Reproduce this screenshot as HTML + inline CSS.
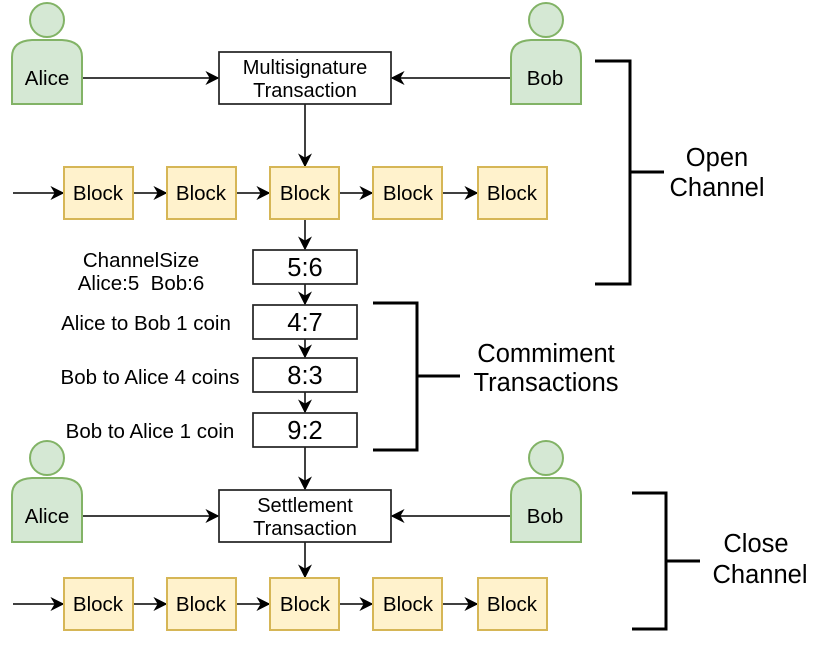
<!DOCTYPE html>
<html><head><style>body{margin:0;background:#fff}svg{display:block}</style></head><body>
<svg width="831" height="669" viewBox="0 0 831 669" xmlns="http://www.w3.org/2000/svg" font-family="Liberation Sans, Arial, sans-serif">
<defs>
<marker id="a" viewBox="0 0 10 10" refX="9" refY="5" markerWidth="14" markerHeight="14" markerUnits="userSpaceOnUse" orient="auto">
<path d="M0,0 L10,5 L0,10 L3,5 z" fill="#000"/></marker>
<g id="person">
<circle cx="0" cy="-42" r="17" fill="#d5e8d4" stroke="#82b366" stroke-width="2"/>
<path d="M-35,42 L-35,-5 Q-35,-21 -15,-22 L15,-22 Q35,-21 35,-5 L35,42 Z" fill="#d5e8d4" stroke="#82b366" stroke-width="2"/>
</g>
</defs>
<g stroke="#000" stroke-width="1.5" fill="none">
<line x1="82" y1="78" x2="218" y2="78" marker-end="url(#a)"/>
<line x1="511" y1="78" x2="392" y2="78" marker-end="url(#a)"/>
<line x1="305" y1="104" x2="305" y2="166" marker-end="url(#a)"/>
<line x1="13" y1="193" x2="63" y2="193" marker-end="url(#a)"/>
<line x1="133" y1="193" x2="166" y2="193" marker-end="url(#a)"/>
<line x1="236" y1="193" x2="269" y2="193" marker-end="url(#a)"/>
<line x1="339" y1="193" x2="372" y2="193" marker-end="url(#a)"/>
<line x1="443" y1="193" x2="477" y2="193" marker-end="url(#a)"/>
<line x1="305" y1="219" x2="305" y2="249" marker-end="url(#a)"/>
<line x1="305" y1="284" x2="305" y2="304" marker-end="url(#a)"/>
<line x1="305" y1="339" x2="305" y2="357" marker-end="url(#a)"/>
<line x1="305" y1="392" x2="305" y2="412" marker-end="url(#a)"/>
<line x1="305" y1="447" x2="305" y2="489" marker-end="url(#a)"/>
<line x1="82" y1="516" x2="218" y2="516" marker-end="url(#a)"/>
<line x1="511" y1="516" x2="392" y2="516" marker-end="url(#a)"/>
<line x1="305" y1="542" x2="305" y2="577" marker-end="url(#a)"/>
<line x1="13" y1="604" x2="63" y2="604" marker-end="url(#a)"/>
<line x1="133" y1="604" x2="166" y2="604" marker-end="url(#a)"/>
<line x1="236" y1="604" x2="269" y2="604" marker-end="url(#a)"/>
<line x1="339" y1="604" x2="372" y2="604" marker-end="url(#a)"/>
<line x1="443" y1="604" x2="477" y2="604" marker-end="url(#a)"/>
</g>
<use href="#person" x="47" y="62"/>
<use href="#person" x="546" y="62"/>
<use href="#person" x="47" y="500"/>
<use href="#person" x="546" y="500"/>
<g font-size="20.5" text-anchor="middle" fill="#000">
<text x="47" y="85">Alice</text><text x="545" y="85">Bob</text>
<text x="47" y="523">Alice</text><text x="545" y="523">Bob</text>
</g>
<g fill="#fff" stroke="#222" stroke-width="1.7">
<rect x="219" y="52" width="172" height="52"/>
<rect x="219" y="490" width="172" height="52"/>
<rect x="253" y="250" width="104" height="34"/>
<rect x="253" y="305" width="104" height="34"/>
<rect x="253" y="358" width="104" height="34"/>
<rect x="253" y="413" width="104" height="34"/>
</g>
<g fill="#fff2cc" stroke="#d6b656" stroke-width="2">
<rect x="64" y="167" width="69" height="52"/><rect x="167" y="167" width="69" height="52"/><rect x="270" y="167" width="69" height="52"/><rect x="373" y="167" width="69" height="52"/><rect x="478" y="167" width="69" height="52"/>
<rect x="64" y="578" width="69" height="52"/><rect x="167" y="578" width="69" height="52"/><rect x="270" y="578" width="69" height="52"/><rect x="373" y="578" width="69" height="52"/><rect x="478" y="578" width="69" height="52"/>
</g>
<g font-size="20.5" text-anchor="middle" fill="#000">
<text x="98" y="200">Block</text><text x="201" y="200">Block</text><text x="305" y="200">Block</text><text x="408" y="200">Block</text><text x="512" y="200">Block</text>
<text x="98" y="611">Block</text><text x="201" y="611">Block</text><text x="305" y="611">Block</text><text x="408" y="611">Block</text><text x="512" y="611">Block</text>
</g>
<g font-size="20" text-anchor="middle" fill="#000">
<text x="305" y="74">Multisignature</text><text x="305" y="97">Transaction</text>
<text x="305" y="512">Settlement</text><text x="305" y="535">Transaction</text>
</g>
<g font-size="20.5" text-anchor="middle" fill="#000">
<text x="141" y="267">ChannelSize</text><text x="141" y="290" xml:space="preserve">Alice:5  Bob:6</text>
<text x="146" y="330">Alice to Bob 1 coin</text>
<text x="150" y="384">Bob to Alice 4 coins</text>
<text x="150" y="438">Bob to Alice 1 coin</text>
</g>
<g font-size="25.5" text-anchor="middle" fill="#000">
<text x="305" y="276">5:6</text><text x="305" y="331">4:7</text><text x="305" y="384">8:3</text><text x="305" y="439">9:2</text>
</g>
<g stroke="#000" stroke-width="3" fill="none">
<path d="M595,61 H630 V284 H595"/><line x1="630" y1="172" x2="664" y2="172"/>
<path d="M373,303 H417 V450 H373"/><line x1="417" y1="376" x2="460" y2="376"/>
<path d="M632,493 H666 V629 H632"/><line x1="666" y1="561" x2="700" y2="561"/>
</g>
<g font-size="25.5" text-anchor="middle" fill="#000">
<text x="717" y="166">Open</text><text x="717" y="196">Channel</text>
<text x="546" y="362">Commiment</text><text x="546" y="391">Transactions</text>
<text x="756" y="552">Close</text><text x="760" y="583">Channel</text>
</g>
</svg>
</body></html>
